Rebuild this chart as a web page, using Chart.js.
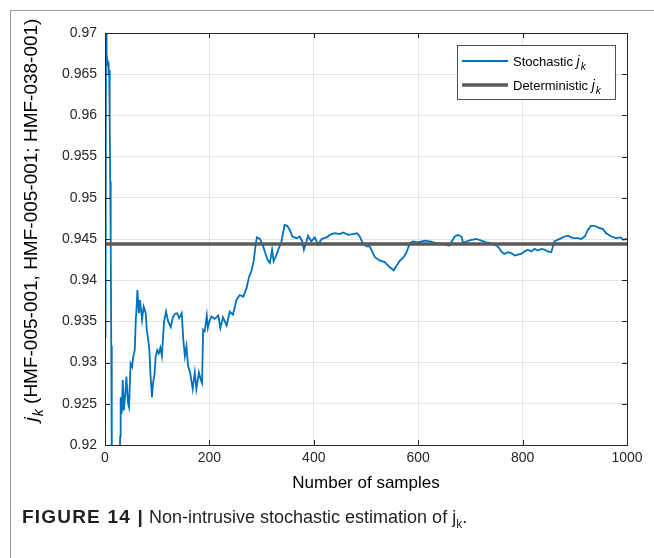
<!DOCTYPE html>
<html>
<head>
<meta charset="utf-8">
<script src="https://cdn.jsdelivr.net/npm/chart.js@4.4.1/dist/chart.umd.min.js"></script>
<style>
  html, body { margin: 0; padding: 0; background: #fff; }
  body { width: 654px; height: 558px; position: relative; overflow: hidden; font-family: "Liberation Sans", Arial, sans-serif; }
  #frame { position: absolute; left: 10px; top: 10px; width: 700px; height: 600px; border-left: 1px solid #9a9a9a; border-top: 1px solid #9a9a9a; }
  #myChart { position: absolute; left: 0; top: 0; }
  #caption { position: absolute; left: 22px; top: 506px; font-size: 18px; color: #231f20; white-space: nowrap; }
  #caption b { font-size: 19px; letter-spacing: 1.2px; }
  #caption sub { font-size: 12px; }
</style>
</head>
<body>
<div id="frame"></div>
<canvas id="myChart" width="654" height="558"></canvas>
<div id="caption"><b>FIGURE 14 |</b> Non-intrusive stochastic estimation of j<sub>k</sub>.</div>
<script>
// values
const sampleNo = [1, 2, 3, 4, 5, 6, 7, 8, 9, 10, 11, 12, 13, 16, 20, 24, 28, 29, 30, 32,
  34, 36, 39, 41, 44, 46, 49, 52, 54, 57, 59, 61, 62, 65, 67, 69, 71, 74, 76, 78,
  80, 83, 85, 87, 90, 92, 95, 97, 100, 103, 106, 109, 113, 117, 121, 126, 130, 134, 138, 142,
  147, 150, 153, 156, 159, 163, 168, 172, 175, 180, 184, 186, 188, 191, 195, 197, 200, 204, 210, 217,
  221, 226, 233, 239, 245, 252, 258, 265, 271, 276, 281, 285, 289, 291, 297, 303, 307, 312, 316, 320,
  323, 328, 333, 338, 341, 344, 349, 354, 359, 367, 373, 378, 381, 385, 389, 395, 402, 408, 415, 424,
  434, 440, 450, 456, 466, 475, 483, 488, 494, 501, 507, 510, 517, 526, 536, 545, 553, 559, 565, 571,
  577, 584, 590, 600, 612, 622, 635, 647, 659, 665, 670, 676, 683, 686, 692, 702, 711, 721, 730, 740,
  750, 755, 759, 765, 772, 778, 785, 791, 797, 804, 810, 817, 823, 829, 836, 842, 848, 855, 858, 861,
  867, 874, 880, 887, 893, 899, 906, 912, 919, 925, 931, 938, 944, 954, 960, 970, 979, 988, 993, 1000];
const jkStochastic = [0.933, 0.978, 0.9665, 0.9668, 0.966, 0.9665, 0.965, 0.9655, 0.9595, 0.952, 0.944, 0.932, 0.918, 0.912, 0.909, 0.913, 0.917, 0.921, 0.9258, 0.9238,
  0.9279, 0.9242, 0.9263, 0.9283, 0.9251, 0.9246, 0.9299, 0.9295, 0.9307, 0.9315, 0.9352, 0.9372, 0.9388, 0.936, 0.9376, 0.9364, 0.9352, 0.9368, 0.9364, 0.936,
  0.934, 0.9327, 0.9315, 0.9287, 0.9258, 0.9275, 0.9287, 0.9307, 0.9315, 0.9311, 0.9318, 0.9308, 0.9349, 0.9362, 0.935, 0.9343, 0.9355, 0.9359, 0.936, 0.9354,
  0.936, 0.9328, 0.9308, 0.932, 0.9296, 0.9288, 0.9268, 0.9288, 0.9268, 0.9288, 0.9278, 0.9275, 0.934, 0.9338, 0.9357, 0.9342, 0.935, 0.9356, 0.9353, 0.9357,
  0.9342, 0.9355, 0.9345, 0.9362, 0.9358, 0.9376, 0.9382, 0.938, 0.939, 0.9404, 0.9412, 0.9424, 0.9445, 0.9452, 0.945, 0.9441, 0.9433, 0.9424, 0.9421, 0.9437,
  0.9423, 0.943, 0.9439, 0.9447, 0.9457, 0.9467, 0.9466, 0.9461, 0.9453, 0.9451, 0.9453, 0.9447, 0.9437, 0.9445, 0.9454, 0.9447, 0.9452, 0.9443, 0.945, 0.9452,
  0.9456, 0.9457, 0.9456, 0.9458, 0.9455, 0.9456, 0.9457, 0.9453, 0.9445, 0.9441, 0.9441, 0.9437, 0.9428, 0.9424, 0.9422, 0.9416, 0.9412, 0.9418, 0.9424, 0.9427,
  0.9433, 0.9445, 0.9447, 0.9446, 0.9448, 0.9447, 0.9445, 0.9444, 0.9442, 0.9448, 0.9453, 0.9455, 0.9453, 0.9445, 0.9447, 0.9449, 0.945, 0.9448, 0.9446, 0.9445,
  0.9442, 0.9439, 0.9435, 0.9432, 0.9434, 0.9433, 0.943, 0.9431, 0.9432, 0.9435, 0.9437, 0.9435, 0.9438, 0.9436, 0.9438, 0.9437, 0.9435, 0.9434, 0.9441, 0.9447,
  0.9449, 0.9451, 0.9453, 0.9454, 0.9452, 0.9451, 0.9451, 0.945, 0.9453, 0.9461, 0.9466, 0.9466, 0.9464, 0.9462, 0.9457, 0.9453, 0.9451, 0.9452, 0.9449, 0.945];
const jkDeterministic = 0.9444;
const xTicks = [0, 200, 400, 600, 800, 1000];
const yTicks = [0.92, 0.925, 0.93, 0.935, 0.94, 0.945, 0.95, 0.955, 0.96, 0.965, 0.97];

const FONT = '"Liberation Sans", Arial, sans-serif';
const INK = '#262626';
Chart.defaults.font.family = FONT;

// italic j with subscript k, then the rest of the text
function drawJk(ctx, x, y, size, rest, measureOnly) {
  const parts = [
    { t: 'j', f: 'italic ' + size + 'px ' + FONT, dy: 0 },
    { t: 'k', f: 'italic ' + Math.round(size * 0.72) + 'px ' + FONT, dy: size * 0.3 },
    { t: rest, f: size + 'px ' + FONT, dy: 0 }
  ];
  let w = 0;
  parts.forEach(p => {
    ctx.font = p.f;
    if (!measureOnly) ctx.fillText(p.t, x + w, y + p.dy);
    w += ctx.measureText(p.t).width + (p.t === 'j' ? 1 : 0);
  });
  return w;
}

const matlabAxes = {
  id: 'matlabAxes',
  afterDatasetsDraw(chart) {
    const { ctx, chartArea: a, scales: { x, y } } = chart;
    ctx.save();
    ctx.strokeStyle = INK;
    ctx.lineWidth = 1;
    ctx.beginPath();
    xTicks.forEach(v => {
      const px = Math.round(x.getPixelForValue(v)) + 0.5;
      ctx.moveTo(px, a.bottom); ctx.lineTo(px, a.bottom - 5);
      ctx.moveTo(px, a.top); ctx.lineTo(px, a.top + 5);
    });
    yTicks.forEach(v => {
      const py = Math.round(y.getPixelForValue(v)) + 0.5;
      ctx.moveTo(a.left, py); ctx.lineTo(a.left + 5, py);
      ctx.moveTo(a.right, py); ctx.lineTo(a.right - 5, py);
    });
    ctx.stroke();
    ctx.strokeRect(Math.round(a.left) + 0.5, Math.round(a.top) + 0.5,
      Math.round(a.right - a.left), Math.round(a.bottom - a.top));

    // legend
    const lx = a.right - 170, ly = a.top + 12, lw = 158, lh = 54;
    ctx.fillStyle = '#fff';
    ctx.fillRect(lx, ly, lw, lh);
    ctx.lineWidth = 0.8;
    ctx.strokeRect(lx + 0.5, ly + 0.5, lw, lh);
    chart.data.datasets.forEach((ds, i) => {
      const yy = ly + 16 + i * 24;
      ctx.strokeStyle = ds.borderColor;
      ctx.lineWidth = ds.borderWidth;
      ctx.beginPath();
      ctx.moveTo(lx + 5, yy); ctx.lineTo(lx + 51, yy);
      ctx.stroke();
      ctx.fillStyle = '#000';
      ctx.textBaseline = 'alphabetic';
      ctx.font = '13px ' + FONT;
      const name = ds.label + ' ';
      ctx.fillText(name, lx + 56, yy + 5);
      const w = ctx.measureText(name).width;
      drawJk(ctx, lx + 56 + w, yy + 5, 14, '');
    });

    // y-axis title
    ctx.translate(37, 220);
    ctx.rotate(-Math.PI / 2);
    ctx.fillStyle = '#000';
    const rest = ' (HMF-005-001, HMF-005-001; HMF-038-001)';
    const w = drawJk(ctx, 0, 0, 19, rest, true);
    drawJk(ctx, -w / 2, 0, 19, rest);
    ctx.restore();
  }
};

new Chart(document.getElementById('myChart'), {
  type: 'line',
  data: {
    datasets: [{
      label: 'Stochastic',
      data: sampleNo.map((s, i) => ({ x: s, y: jkStochastic[i] })),
      borderColor: '#0072BD',
      borderWidth: 1.8,
      pointRadius: 0,
      tension: 0,
      order: 2
    }, {
      label: 'Deterministic',
      data: [{ x: 0, y: jkDeterministic }, { x: 1000, y: jkDeterministic }],
      borderColor: '#5a5a5a',
      borderWidth: 3.5,
      pointRadius: 0,
      order: 1
    }]
  },
  options: {
    responsive: false,
    animation: false,
    layout: { padding: { left: 0, right: 27, top: 33, bottom: 64 } },
    plugins: { legend: { display: false }, tooltip: { enabled: false } },
    scales: {
      x: {
        type: 'linear',
        min: 0,
        max: 1000,
        afterFit: s => { s.height = 49; },
        afterBuildTicks: s => { s.ticks = xTicks.map(v => ({ value: v })); },
        grid: { color: '#e3e3e3', drawTicks: false },
        border: { display: false },
        ticks: { padding: 5, maxRotation: 0, color: INK, font: { size: 14 }, callback: v => String(v) },
        title: { display: true, text: 'Number of samples', color: '#000', font: { size: 17 }, padding: 0 }
      },
      y: {
        min: 0.92,
        max: 0.97,
        afterFit: s => { s.width = 105; },
        afterBuildTicks: s => { s.ticks = yTicks.map(v => ({ value: v })); },
        grid: { color: '#e3e3e3', drawTicks: false },
        border: { display: false },
        ticks: { padding: 8, color: INK, font: { size: 14 }, callback: v => String(+v.toFixed(3)) }
      }
    }
  },
  plugins: [matlabAxes]
});
</script>
</body>
</html>
